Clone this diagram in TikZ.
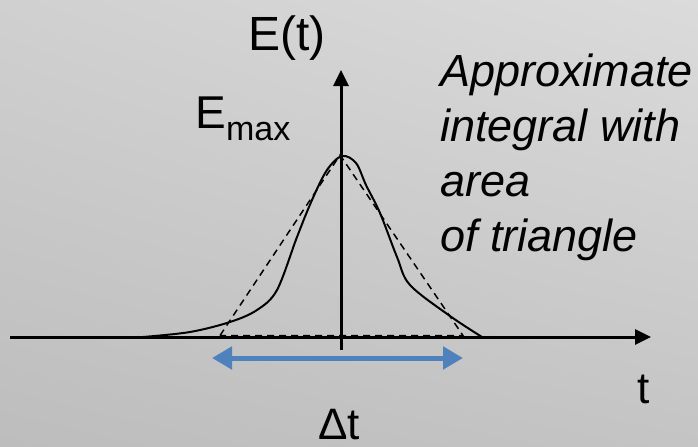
\documentclass[tikz,border=0pt]{standalone}
\usepackage{fontspec}
\setmainfont{Liberation Sans}
\usepackage{tikz}
\usetikzlibrary{arrows.meta,positioning,shadings}
\definecolor{bgUL}{HTML}{D0D0D0}
\definecolor{bgUR}{HTML}{DBDBDB}
\definecolor{bgLL}{HTML}{BDBDBD}
\definecolor{bgLR}{HTML}{C4C4C4}
\definecolor{spanBlue}{HTML}{4F81BD}
\tikzset{
  >=Triangle,
  % axes and curve
  axis/.style={
    line width=1.5pt,
    draw=black,
    -{Triangle[length=8pt,width=7.5pt]}
  },
  pulse/.style={
    line width=1pt,
    draw=black
  },
  triangleline/.style={
    line width=0.75pt,
    draw=black,
    dash pattern=on 3.5pt off 2.5pt
  },
  spanarrow/.style={
    line width=2.5pt,
    draw=spanBlue,
    {Triangle[length=10pt,width=11pt]}-{Triangle[length=10pt,width=11pt]}
  },
  lbl/.style={
    inner sep=0pt,
    font=\fontsize{24}{29}\selectfont
  },
  note/.style={
    inner sep=0pt,
    align=left,
    font=\fontsize{22.5}{27.5}\selectfont\itshape
  }
}

\begin{document}
\begin{tikzpicture}[x=0.5pt,y=-0.5pt]

\shade[upper left=bgUL, upper right=bgUR, lower left=bgLL, lower right=bgLR]
  (0,0) rectangle (698,446);
\useasboundingbox (0,0) rectangle (698,446);

\coordinate (xstart) at (10,337);
\coordinate (xend) at (651,337);
\coordinate (ybot) at (341,350);
\coordinate (ytop) at (341,70);
\coordinate (peak) at (340,155);
\coordinate (triL) at (220,335.5);
\coordinate (triR) at (463,335.5);
\coordinate (dtL) at (212,358);
\coordinate (dtR) at (463,358);

\draw[axis] (xstart) -- (xend);
\draw[axis] (ybot) -- (ytop);

% pulse
\draw[pulse] plot[smooth, tension=0.55] coordinates {
  (143,337) (190,332) (230,322) (257,310) (277,290) (297,237)
  (312,200) (327,170) (342,156) (356,163) (366,185) (380,213)
  (397,257) (410,285) (450,316) (482,337)};

% triangle
\draw[triangleline] (triL) -- (peak) -- (triR) -- cycle;

\draw[spanarrow] (dtL) -- (dtR);

\node[lbl, anchor=base west] (et) at (248,50) {E(t)};
\node[lbl, anchor=base west, font=\fontsize{23}{28}\selectfont] (emax) at (195,128)
  {E\raisebox{-6pt}{\fontsize{17}{17}\selectfont max}};
\node[lbl, anchor=base west, font=\fontsize{22}{26}\selectfont] (tlab) at (637,403) {t};
\node[lbl, anchor=base west, font=\fontsize{22}{26}\selectfont] (dtlab) at (318,439) {Δt};
\node[note, anchor=north west] (approx) at (440,53)
  {Approximate\\integral with\\area\\of triangle};

\end{tikzpicture}
\end{document}
